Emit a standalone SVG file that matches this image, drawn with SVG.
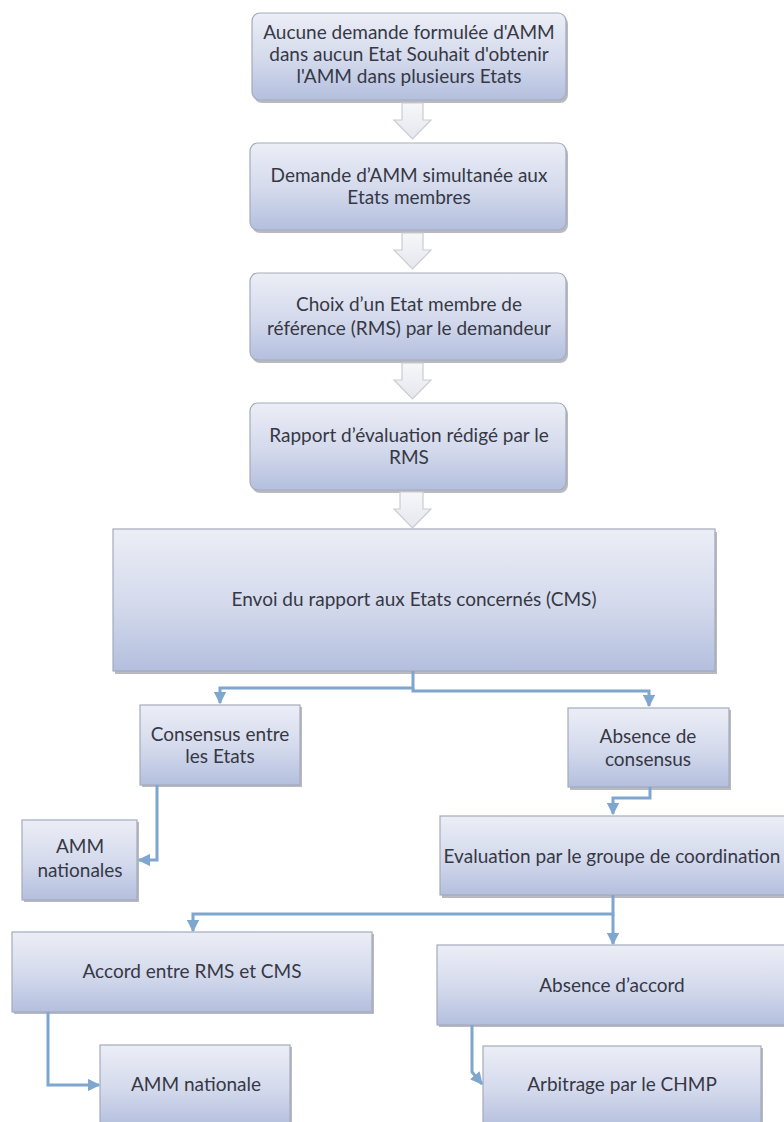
<svg xmlns="http://www.w3.org/2000/svg" width="784" height="1122" viewBox="0 0 784 1122">
<defs>
<linearGradient id="g" x1="0" y1="0" x2="0" y2="1">
<stop offset="0" stop-color="#eceef6"/>
<stop offset="0.55" stop-color="#d3d9ec"/>
<stop offset="1" stop-color="#b3bfde"/>
</linearGradient>
<linearGradient id="ga" x1="0" y1="0" x2="0" y2="1">
<stop offset="0" stop-color="#f6f7f9"/>
<stop offset="1" stop-color="#e4e7ee"/>
</linearGradient>
<marker id="ah" viewBox="0 0 10 10" refX="9" refY="5" markerWidth="4.2" markerHeight="4.2" markerUnits="strokeWidth" orient="auto">
<path d="M0,0 L10,5 L0,10 Z" fill="#7fa6cf"/>
</marker>
</defs>
<style>
.box{fill:url(#g);stroke:#a4abbb;stroke-width:1.2}
.sh{fill:#7d828c;opacity:0.55}
.t{font-family:Lato,"Open Sans","Liberation Sans",sans-serif;font-size:19px;fill:#363845;text-anchor:middle}
.chev{fill:url(#ga);stroke:#c9ccd2;stroke-width:1.2}
.c{fill:none;stroke:#7fa6cf;stroke-width:3}
</style>
<rect width="784" height="1122" fill="#ffffff"/>

<g id="n1">
<rect class="sh" x="254" y="16" width="314" height="87" rx="8"/>
<rect class="box" x="252" y="13" width="314" height="87" rx="8"/>
<text class="t" x="409" y="39">Aucune demande formulée d'AMM</text>
<text class="t" x="409" y="61">dans aucun Etat Souhait d'obtenir</text>
<text class="t" x="409" y="83">l'AMM dans plusieurs Etats</text>
</g>
<g id="n2">
<rect class="sh" x="252" y="146" width="316" height="87" rx="8"/>
<rect class="box" x="250" y="143" width="316" height="87" rx="8"/>
<text class="t" x="409" y="182">Demande d’AMM simultanée aux</text>
<text class="t" x="409" y="204">Etats membres</text>
</g>
<g id="n3">
<rect class="sh" x="252" y="276" width="316" height="87" rx="8"/>
<rect class="box" x="250" y="273" width="316" height="87" rx="8"/>
<text class="t" x="409" y="311">Choix d’un Etat membre de</text>
<text class="t" x="409" y="335">référence (RMS) par le demandeur</text>
</g>
<g id="n4">
<rect class="sh" x="252" y="406" width="316" height="87" rx="8"/>
<rect class="box" x="250" y="403" width="316" height="87" rx="8"/>
<text class="t" x="409" y="442">Rapport d’évaluation rédigé par le</text>
<text class="t" x="409" y="464">RMS</text>
</g>
<g id="n5">
<rect class="sh" x="115" y="532" width="602" height="142"/>
<rect class="box" x="113" y="529" width="602" height="142"/>
<text class="t" x="414" y="606">Envoi du rapport aux Etats concernés (CMS)</text>
</g>
<g id="n6">
<rect class="sh" x="142" y="707" width="160" height="80"/>
<rect class="box" x="140" y="705" width="160" height="80"/>
<text class="t" x="220" y="741">Consensus entre</text>
<text class="t" x="220" y="763">les Etats</text>
</g>
<g id="n7">
<rect class="sh" x="570" y="710" width="161" height="80"/>
<rect class="box" x="568" y="708" width="161" height="79"/>
<text class="t" x="648" y="743">Absence de</text>
<text class="t" x="648" y="766">consensus</text>
</g>
<g id="n8">
<rect class="sh" x="24" y="822" width="115" height="80"/>
<rect class="box" x="22" y="820" width="115" height="80"/>
<text class="t" x="80" y="853">AMM</text>
<text class="t" x="80" y="877">nationales</text>
</g>
<g id="n9">
<rect class="sh" x="442" y="818" width="344" height="80"/>
<rect class="box" x="440" y="816" width="350" height="79"/>
<text class="t" x="612" y="863">Evaluation par le groupe de coordination</text>
</g>
<g id="n10">
<rect class="sh" x="14" y="934" width="360" height="80"/>
<rect class="box" x="12" y="932" width="360" height="80"/>
<text class="t" x="192" y="978">Accord entre RMS et CMS</text>
</g>
<g id="n11">
<rect class="sh" x="439" y="947" width="350" height="80"/>
<rect class="box" x="437" y="945" width="352" height="80"/>
<text class="t" x="612" y="992">Absence d’accord</text>
</g>
<g id="n12">
<rect class="sh" x="102" y="1047" width="190" height="80"/>
<rect class="box" x="100" y="1045" width="190" height="82"/>
<text class="t" x="196" y="1091">AMM nationale</text>
</g>
<g id="n13">
<rect class="sh" x="485" y="1048" width="278" height="80"/>
<rect class="box" x="483" y="1046" width="278" height="82"/>
<text class="t" x="622" y="1091">Arbitrage par le CHMP</text>
</g>

<g id="connectors">
<polygon class="chev" points="402,103 423,103 423,120 431,120 412.5,139 394,120 402,120"/>
<polygon class="chev" points="402,233 423,233 423,250 431,250 412.5,269 394,250 402,250"/>
<polygon class="chev" points="402,363 423,363 423,380 431,380 412.5,399 394,380 402,380"/>
<polygon class="chev" points="400,492 423,492 423,509 431,509 412.5,528 394,509 400,509"/>
<path class="c" d="M413,671 V688 H220 V703" marker-end="url(#ah)"/>
<path class="c" d="M413,688 V691 H649 V706" marker-end="url(#ah)"/>
<path class="c" d="M650,787 V798 H613 V814" marker-end="url(#ah)"/>
<path class="c" d="M157,785 V860 H139" marker-end="url(#ah)"/>
<path class="c" d="M613,895 V914 H193 V931" marker-end="url(#ah)"/>
<path class="c" d="M613,914 V944" marker-end="url(#ah)"/>
<path class="c" d="M48,1012 V1085 H99" marker-end="url(#ah)"/>
<path class="c" d="M472,1025 V1072 L482,1084" marker-end="url(#ah)"/>
</g>
</svg>
